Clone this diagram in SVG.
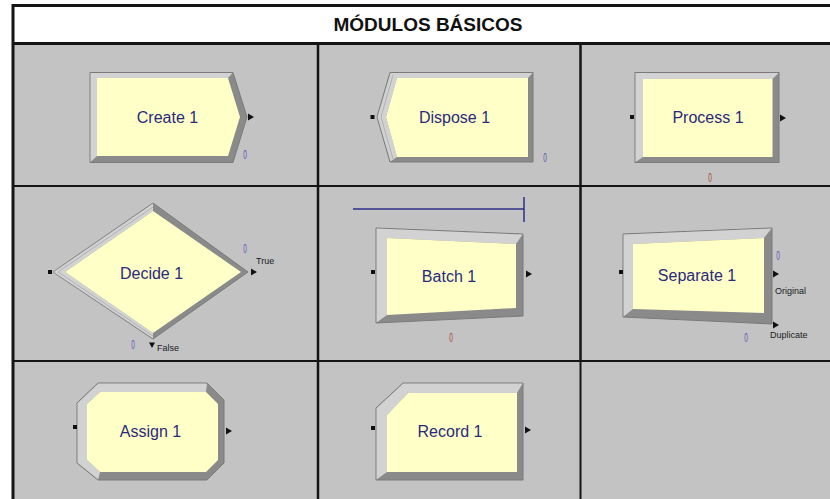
<svg xmlns="http://www.w3.org/2000/svg" width="830" height="499" viewBox="0 0 830 499">
<style>
.cell{fill:#c3c3c3}
.grid{stroke:#151515;fill:none}
.dark{fill:#8a8a8a;stroke:#7a7a7a;stroke-width:1}
.light{fill:#d2d2d2}
.face{fill:#ffffc8}
.lbl{font-family:"Liberation Sans",Arial,sans-serif;font-size:16px;fill:#2a2a7c;text-anchor:middle}
.small{font-family:"Liberation Sans",Arial,sans-serif;font-size:9px;fill:#1a1a1a}
.cnt{font-family:"Liberation Sans",Arial,sans-serif;font-size:13px;fill:#5a50c0;text-anchor:middle}
.cntr{font-family:"Liberation Sans",Arial,sans-serif;font-size:13px;fill:#b04030;text-anchor:middle}
.port{fill:#111}
</style>
<rect x="0" y="0" width="830" height="499" fill="#ffffff"/>
<g id="table">
<rect x="13" y="5" width="820" height="38" fill="#ffffff"/>
<rect class="cell" x="13" y="44" width="820" height="455"/>
<text x="428" y="31" font-family="'Liberation Sans',Arial,sans-serif" font-size="19" font-weight="bold" fill="#111" text-anchor="middle">MÓDULOS BÁSICOS</text>
<line class="grid" x1="13" y1="5.5" x2="830" y2="5.5" stroke-width="3"/>
<line class="grid" x1="13" y1="4" x2="13" y2="499" stroke-width="3"/>
<line class="grid" x1="13" y1="43.5" x2="830" y2="43.5" stroke-width="3"/>
<line class="grid" x1="318" y1="44" x2="318" y2="499" stroke-width="2.5"/>
<line class="grid" x1="580.5" y1="44" x2="580.5" y2="361" stroke-width="2.5"/>
<line class="grid" x1="580.5" y1="361" x2="580.5" y2="499" stroke-width="2"/>
<line class="grid" x1="13" y1="186" x2="830" y2="186" stroke-width="2"/>
<line class="grid" x1="13" y1="361" x2="830" y2="361" stroke-width="2"/>
</g>
<g id="create1">
<polygon class="dark" points="90,72.5 233,72.5 247,117 233,162.5 90,162.5"/>
<polygon class="light" points="90.5,73 232.5,73 228,78 97,78 97,156 90.5,162"/>
<polygon class="face" points="97,78 228,78 240,117 228,156 97,156"/>
<text class="lbl" x="167.5" y="122.7">Create 1</text>
<polygon class="port" points="248,113.5 254,117 248,120.5"/>
<text class="cnt" transform="translate(245,159) scale(0.5,1)">0</text>
</g>
<g id="dispose1">
<polygon class="dark" points="377,117 390,72.5 533,72.5 533,162 390,162"/>
<polygon class="light" points="377.5,117 390.5,73 532.5,73 528,78 397,78 386,117 397,157 390.5,161.5"/>
<line x1="381" y1="117" x2="393" y2="75" stroke="#a8a8a8" stroke-width="0.8"/>
<line x1="381" y1="117" x2="393" y2="159" stroke="#a8a8a8" stroke-width="0.8"/>
<polygon class="face" points="386,117 397,78 528,78 528,157 397,157"/>
<text class="lbl" x="454.5" y="122.7">Dispose 1</text>
<rect class="port" x="370.5" y="115" width="4" height="4"/>
<text class="cnt" transform="translate(545,162) scale(0.5,1)">0</text>
</g>
<g id="process1">
<rect class="dark" x="635" y="72.5" width="144" height="90"/>
<polygon class="light" points="635.5,73 778.5,73 772.5,79 643,79 643,157 635.5,162"/>
<rect class="face" x="643" y="79" width="129.5" height="78"/>
<text class="lbl" x="708" y="122.7">Process 1</text>
<rect class="port" x="630" y="115" width="4" height="4"/>
<polygon class="port" points="780,114.5 786,118 780,121.5"/>
<text class="cntr" transform="translate(710,182) scale(0.5,1)">0</text>
</g>
<g id="decide1">
<polygon class="dark" points="53,272 153,203 248,272 153,339"/>
<polygon class="light" points="53.5,272 153,203.6 153,211 65,272 153,333 153,338.4"/>
<line x1="58" y1="272" x2="153" y2="207" stroke="#a8a8a8" stroke-width="0.8"/>
<line x1="58" y1="272" x2="153" y2="336" stroke="#a8a8a8" stroke-width="0.8"/>
<polygon class="face" points="65,272 153,211 241,272 153,333"/>
<text class="lbl" x="151.5" y="279">Decide 1</text>
<rect class="port" x="48" y="270" width="4" height="4"/>
<polygon class="port" points="251,268.5 257,272 251,275.5"/>
<text class="small" x="256" y="264">True</text>
<text class="cnt" transform="translate(245,253) scale(0.5,1)">0</text>
<polygon class="port" points="149,342.5 155,342.5 152,348"/>
<text class="small" x="157" y="351">False</text>
<text class="cnt" transform="translate(133,349) scale(0.5,1)">0</text>
</g>
<g id="batch1">
<line x1="353" y1="209" x2="524" y2="209" stroke="#2e2e8a" stroke-width="1.5"/>
<line x1="524" y1="197" x2="524" y2="222" stroke="#2e2e8a" stroke-width="1.5"/>
<polygon class="dark" points="376,228 523,234 523,316 376,323"/>
<polygon class="light" points="376.5,228.5 522.5,234.5 516,244 387,238 387,315 376.5,322.5"/>
<polygon class="face" points="387,238 516,244 516,308 387,315"/>
<text class="lbl" x="449" y="281.5">Batch 1</text>
<rect class="port" x="371" y="270" width="4" height="4"/>
<polygon class="port" points="526,270.5 532,274 526,277.5"/>
<text class="cntr" transform="translate(451,342) scale(0.5,1)">0</text>
</g>
<g id="separate1">
<polygon class="dark" points="623,234 772,228 772,324 623,317"/>
<polygon class="light" points="623.5,234.5 771.5,228.5 764,238 633,244 633,309 623.5,316.5"/>
<polygon class="face" points="633,244 764,238 764,313 633,309"/>
<text class="lbl" x="697" y="281">Separate 1</text>
<rect class="port" x="619" y="270" width="4" height="4"/>
<polygon class="port" points="773,270.5 779,274 773,277.5"/>
<text class="small" x="775" y="294">Original</text>
<polygon class="port" points="773,321.5 779,325 773,328.5"/>
<text class="small" x="770" y="338">Duplicate</text>
<text class="cnt" transform="translate(778,260) scale(0.5,1)">0</text>
<text class="cnt" transform="translate(746,342) scale(0.5,1)">0</text>
</g>
<g id="assign1">
<polygon class="dark" points="98,383 207,383 224,400 224,463 207,480 98,480 77,463 77,403"/>
<polygon class="light" points="207,383.5 98.2,383.5 77.5,403.2 77.5,462.8 98.2,479.5 100,472 87,460 87,404 100,392 206,392"/>
<polygon class="face" points="100,392 206,392 218,404 218,460 206,472 100,472 87,460 87,404"/>
<text class="lbl" x="150.5" y="436.7">Assign 1</text>
<rect class="port" x="73" y="425" width="4" height="4"/>
<polygon class="port" points="226,427.5 232,431 226,434.5"/>
</g>
<g id="record1">
<polygon class="dark" points="403,383 523,383 523,480 376,480 376,408"/>
<polygon class="light" points="403.2,383.5 522.5,383.5 517,393 408,393 387,415 387,472 376.5,479.5 376.5,408.2"/>
<polygon class="face" points="408,393 517,393 517,472 387,472 387,415"/>
<text class="lbl" x="450" y="436.7">Record 1</text>
<rect class="port" x="371" y="426" width="4" height="4"/>
<polygon class="port" points="525,426.5 531,430 525,433.5"/>
</g>
<g id="connectors"></g>
</svg>
